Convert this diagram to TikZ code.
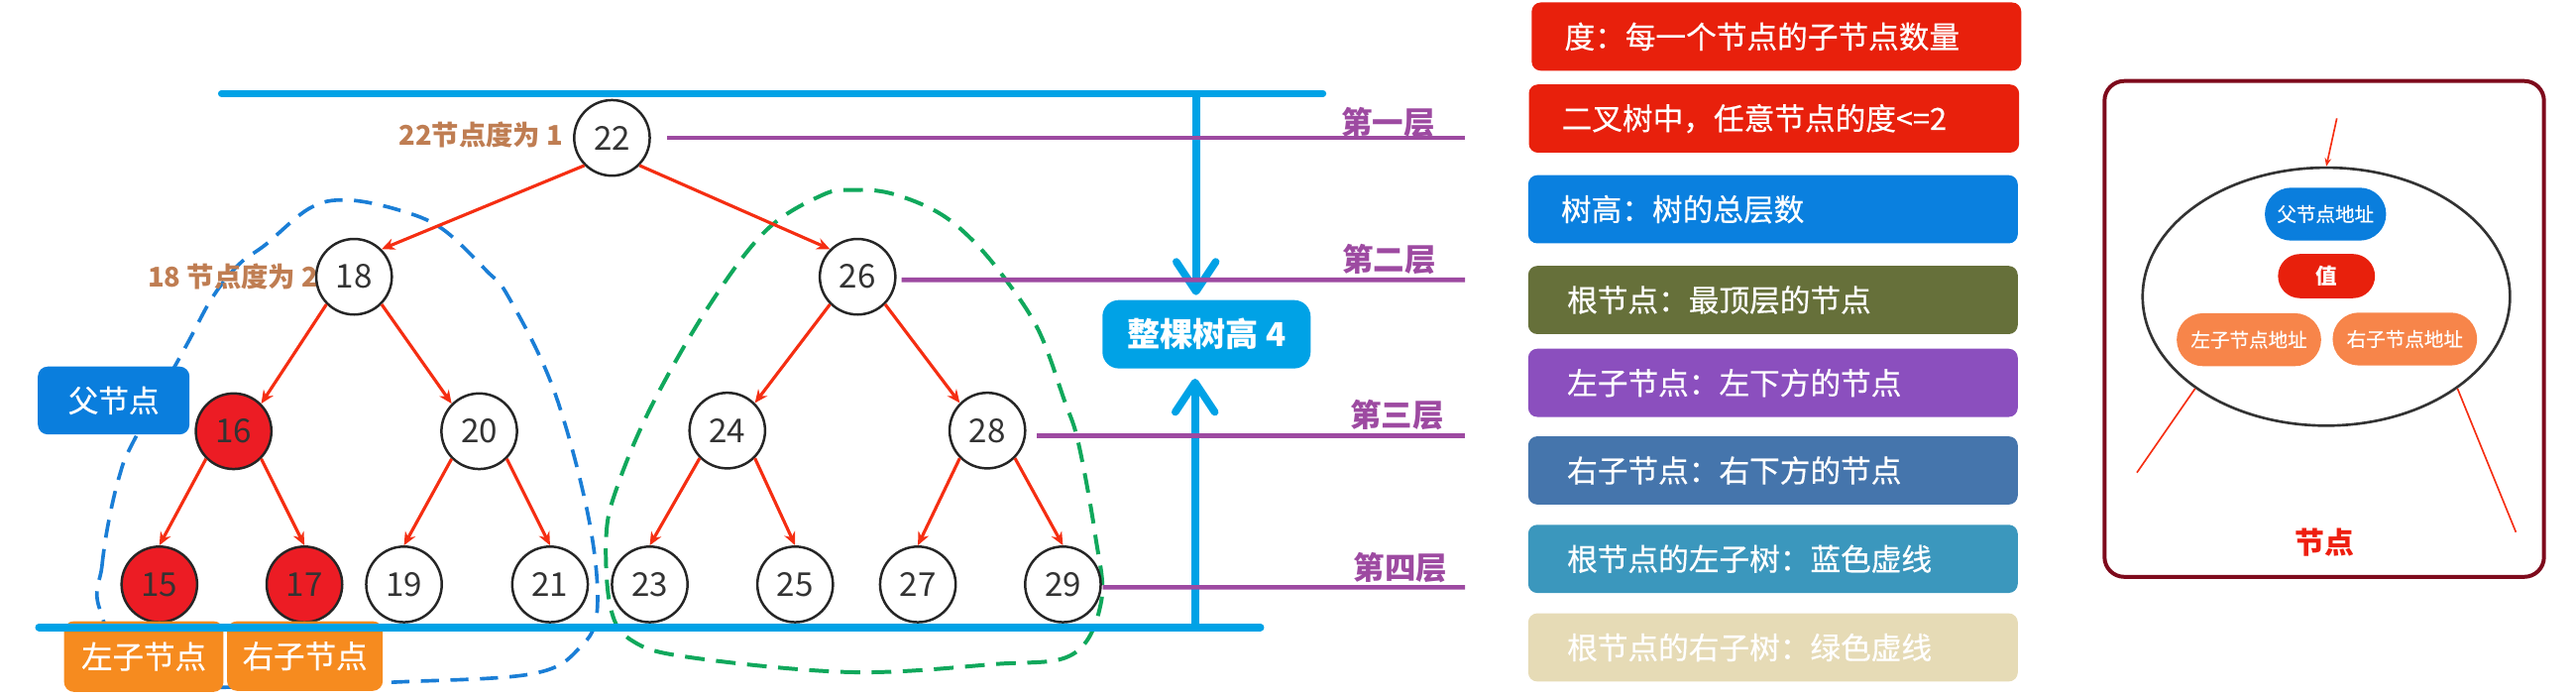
\documentclass[tikz,border=0pt]{standalone}
\usepackage{fontspec}
\setmainfont{Noto Sans CJK SC}
\newfontfamily\medcjk[FakeBold=0.5]{Noto Sans CJK SC}
\usetikzlibrary{arrows.meta,shapes.geometric}
\definecolor{edgered}{HTML}{F52E12}
\definecolor{nodered}{HTML}{EC1C24}
\definecolor{labbrown}{HTML}{BF7D52}
\definecolor{lvlpurple}{HTML}{9D4AA1}
\definecolor{lineblue}{HTML}{00A2E6}
\definecolor{boxblue}{HTML}{0A7EDD}
\definecolor{boxorange}{HTML}{F68B1F}
\definecolor{dashblue}{HTML}{1A7ED6}
\definecolor{dashgreen}{HTML}{10A85C}
\definecolor{lgred}{HTML}{E8200C}
\definecolor{lgblue}{HTML}{0A80DF}
\definecolor{lgolive}{HTML}{66703A}
\definecolor{lgpurple}{HTML}{8B4FBE}
\definecolor{lgsteel}{HTML}{4575AC}
\definecolor{lgteal}{HTML}{3B97BD}
\definecolor{lgbeige}{HTML}{E6DBB6}
\definecolor{framered}{HTML}{7E0A1C}
\definecolor{pillorange}{HTML}{F7854A}
\definecolor{titlered}{HTML}{EE1F10}
\definecolor{numgray}{HTML}{333333}
\begin{document}
\begin{tikzpicture}[x=1pt,y=-1pt,
  tnode/.style={circle, draw=black!85, line width=1.5pt, fill=white, minimum size=46pt, inner sep=0pt, font=\fontsize{20}{22}\selectfont, text=numgray},
  rnode/.style={tnode, fill=nodered},
  tedge/.style={draw=edgered, line width=1.9pt, -{Stealth[length=8pt,width=7pt]}},
  deglab/.style={font=\bfseries\fontsize{16.5}{18}\selectfont, text=labbrown, inner sep=0pt},
  pline/.style={draw=lvlpurple, line width=2.8pt},
  lvltext/.style={font=\bfseries\fontsize{19}{21}\selectfont, text=lvlpurple, inner sep=0pt},
  bline/.style={draw=lineblue, line width=4.6pt, line cap=round},
  harrow/.style={draw=lineblue, line width=4.6pt, -{Straight Barb[length=18pt,width=24pt,round]}},
  wbox/.style={rectangle, rounded corners=6pt, text=white, inner sep=0pt, font=\medcjk\fontsize{18.5}{20}\selectfont},
  lgbox/.style={rectangle, rounded corners=5.5pt, text=white, anchor=north west, minimum height=41.5pt, inner ysep=0pt, align=left, font=\medcjk\fontsize{18.5}{20}\selectfont},
  dashb/.style={draw=dashblue, line width=2.2pt, dash pattern=on 11pt off 7pt},
  dashg/.style={draw=dashgreen, line width=2.4pt, dash pattern=on 12pt off 7pt},
  pill/.style={rectangle, rounded corners=16pt, text=white, inner sep=0pt, font=\medcjk\fontsize{11.8}{13}\selectfont},
  thinred/.style={draw=edgered, line width=1pt}
]
\useasboundingbox (0,0) rectangle (1568,424.1);

% subtree outlines
\draw[dashb] plot[smooth cycle, tension=0.6] coordinates {(60.5,370) (62,345) (66,318) (72.7,289.6) (80.8,269.5) (113,211) (129.3,181) (145.4,160.9) (161.7,148.8) (188.5,126.7) (211,121.7) (242.4,127.7) (269,139.1) (296.3,164.9) (309.7,181) (337,237) (358,313.7) (363.6,370) (353,394) (324,410) (242,415) (150,418) (85,414)};
\draw[dashg] plot[smooth cycle, tension=0.6] coordinates {(371.7,370) (369,326) (375.9,295.6) (396.6,247) (431,187) (465.9,140.6) (500.5,118.7) (519.6,115.6) (542,117.6) (569.8,128.6) (590.6,144.8) (611.3,169) (632.2,201.1) (647.7,243.1) (656.4,269.5) (666.7,325.8) (670.3,366) (652.8,398.2) (604.4,404.2) (517.7,409) (420,400) (385,390)};

% degree labels
\node[deglab, anchor=east] (l22) at (343,82) {22节点度为 1};
\node[deglab, anchor=east] (l18) at (194,168) {18 节点度为 2};

% tree nodes
\node[tnode] (n22) at (372.5,83.9) {22};
\node[tnode] (n18) at (215.5,168.4) {18};
\node[tnode] (n26) at (522,168.4) {26};
\node[rnode] (n16) at (142.2,262.4) {16};
\node[tnode] (n20) at (291.7,262.4) {20};
\node[tnode] (n24) at (442.7,262) {24};
\node[tnode] (n28) at (601,262) {28};
\node[rnode] (n15) at (97,355.6) {15};
\node[rnode] (n17) at (185.3,355.6) {17};
\node[tnode] (n19) at (245.9,355.6) {19};
\node[tnode] (n21) at (334.8,355.6) {21};
\node[tnode] (n23) at (395.5,355.6) {23};
\node[tnode] (n25) at (484,355.6) {25};
\node[tnode] (n27) at (558.7,355.6) {27};
\node[tnode] (n29) at (647,355.6) {29};

% tree edges
\draw[tedge] (n22.225) -- (n18.45);
\draw[tedge] (n22.315) -- (n26.135);
\draw[tedge] (n18.225) -- (n16.45);
\draw[tedge] (n18.315) -- (n20.135);
\draw[tedge] (n26.225) -- (n24.45);
\draw[tedge] (n26.315) -- (n28.135);
\draw[tedge] (n16.225) -- (n15.north);
\draw[tedge] (n16.315) -- (n17.north);
\draw[tedge] (n20.225) -- (n19.north);
\draw[tedge] (n20.315) -- (n21.north);
\draw[tedge] (n24.225) -- (n23.north);
\draw[tedge] (n24.315) -- (n25.north);
\draw[tedge] (n28.225) -- (n27.north);
\draw[tedge] (n28.315) -- (n29.north);

% side boxes
\node[wbox, fill=boxblue, minimum width=92.3pt, minimum height=41.3pt] (fbox) at (69.2,243.7) {父节点};
\node[wbox, fill=boxorange, minimum width=97pt, minimum height=43pt, font=\medcjk\fontsize{19}{20}\selectfont] (lbox) at (87.5,399.5) {左子节点};
\node[wbox, fill=boxorange, minimum width=94.8pt, minimum height=42.3pt, font=\medcjk\fontsize{19}{20}\selectfont] (rbox) at (185.6,399.2) {右子节点};

% top and bottom lines
\coordinate (tl1) at (134.7,56.9);
\coordinate (tl2) at (805.3,56.9);
\draw[bline, line width=4pt] (tl1) -- (tl2);
\coordinate (bl1) at (23.7,381.7);
\coordinate (bl2) at (767.2,381.7);
\draw[bline] (bl1) -- (bl2);

% height box and arrows
\node[wbox, fill=lineblue, rounded corners=10pt, minimum width=126.7pt, minimum height=41.6pt, font=\bfseries\fontsize{20}{22}\selectfont] (hbox) at (734.4,203.4) {整棵树高 4};
\coordinate (ha) at (728,57);
\draw[harrow, shorten >=2.8pt] (ha) -- (ha |- hbox.north);
\coordinate (hb) at (727.4,381.7);
\draw[harrow, shorten >=6pt] (hb) -- (hb |- hbox.south);

% level lines
\coordinate (e1) at (891.8,83.9);
\coordinate (e2) at (891.8,170.3);
\coordinate (e3) at (891.8,265);
\coordinate (e4) at (891.8,357.4);
\draw[pline] ([xshift=10pt]n22.east) -- (e1);
\draw[pline] ([xshift=3pt,yshift=-1.9pt]n26.east) -- (e2);
\draw[pline] ([xshift=6.4pt,yshift=-3pt]n28.east) -- (e3);
\draw[pline] ([xshift=0.5pt,yshift=-1.8pt]n29.east) -- (e4);
\node[lvltext] (t1) at (844.8,74.4) {第一层};
\node[lvltext] (t2) at (845.6,157.9) {第二层};
\node[lvltext] (t3) at (850.3,252.4) {第三层};
\node[lvltext] (t4) at (852.6,345.5) {第四层};

% legend
\node[lgbox, fill=lgred, text width=258pt, inner xsep=20pt] (g1) at (932.1,1.3) {度：每一个节点的子节点数量};
\node[lgbox, fill=lgred, text width=258.4pt, inner xsep=20pt] (g2) at (930.4,51.2) {二叉树中，任意节点的度<=2};
\node[lgbox, fill=lgblue, text width=258pt, inner xsep=20pt] (g3) at (930,106.4) {树高：树的总层数};
\node[lgbox, fill=lgolive, text width=250.6pt, inner xsep=23.7pt] (g4) at (930,161.6) {根节点：最顶层的节点};
\node[lgbox, fill=lgpurple, text width=250.6pt, inner xsep=23.7pt] (g5) at (930,212) {左子节点：左下方的节点};
\node[lgbox, fill=lgsteel, text width=250.6pt, inner xsep=23.7pt] (g6) at (930,265.3) {右子节点：右下方的节点};
\node[lgbox, fill=lgteal, text width=250.6pt, inner xsep=23.7pt] (g7) at (930,319.1) {根节点的左子树：蓝色虚线};
\node[lgbox, fill=lgbeige, text width=250.6pt, inner xsep=23.7pt] (g8) at (930,373) {根节点的右子树：绿色虚线};

% node anatomy panel
\draw[framered, line width=2.4pt, rounded corners=12pt] (1281,49.3) rectangle (1548.5,351);
\node[ellipse, draw=black!80, line width=1.6pt, minimum width=223.6pt, minimum height=157pt, inner sep=0pt] (ell) at (1416,180.5) {};
\node[pill, fill=boxblue, minimum width=73.8pt, minimum height=32.2pt] (pf) at (1415.5,130.3) {父节点地址};
\node[pill, fill=lgred, minimum width=59pt, minimum height=26.9pt, rounded corners=13.4pt, font=\bfseries\fontsize{13}{14}\selectfont] (pv) at (1416.1,168) {值};
\node[pill, fill=pillorange, minimum width=87.9pt, minimum height=32.2pt] (pl) at (1368.9,206.7) {左子节点地址};
\node[pill, fill=pillorange, minimum width=87.9pt, minimum height=32.2pt] (pr) at (1463.8,206.3) {右子节点地址};
\node[font=\bfseries\fontsize{18}{20}\selectfont, text=titlered, inner sep=0pt] (ttl) at (1415.2,329.8) {节点};
\coordinate (intop) at (1422.4,72);
\coordinate (outl) at (1300.7,287.6);
\coordinate (outr) at (1531.4,323.8);
\draw[thinred, -{Stealth[length=5pt,width=4pt]}] (intop) -- (ell.90);
\draw[thinred] (ell.215) -- (outl);
\draw[thinred] (ell.325) -- (outr);
\end{tikzpicture}
\end{document}
